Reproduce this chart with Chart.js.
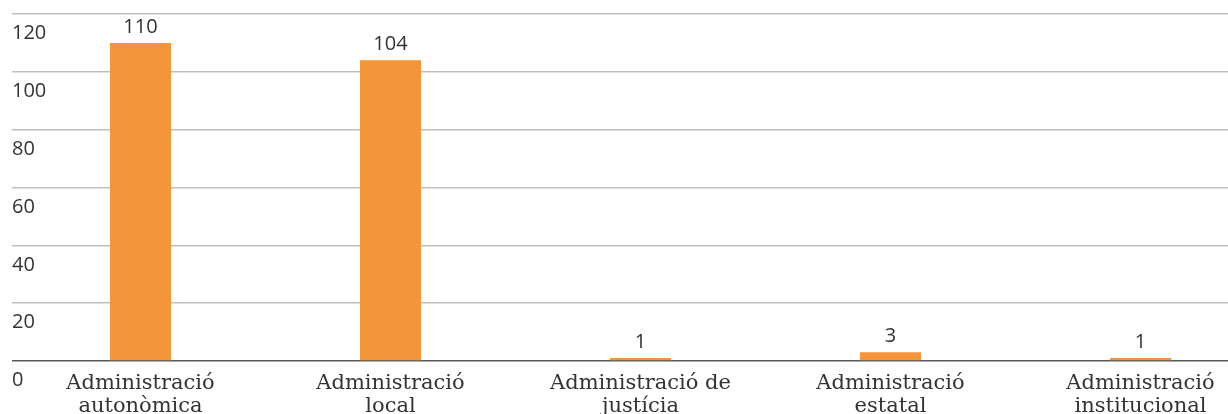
<!DOCTYPE html>
<html>
<head>
<meta charset="utf-8">
<script src="https://cdn.jsdelivr.net/npm/chart.js@4.4.1/dist/chart.umd.min.js"></script>
<style>
    html, body { margin: 0; padding: 0; background: #fff; overflow: hidden; }
    #wrap { width: 1270px; height: 414px; position: relative; }
</style>
</head>
<body>
<div id="wrap"><canvas id="myChart"></canvas></div>
<script>
const categories = [
    ['Administració', 'autonòmica'],
    ['Administració', 'local'],
    ['Administració de', 'justícia'],
    ['Administració', 'estatal'],
    ['Administració', 'institucional']
];
const values = [110, 104, 1, 3, 1];
const yTicks = [0, 20, 40, 60, 80, 100, 120];

const barColor = '#F5953A';
const textColor = '#333333';

// value labels above each bar
const barLabels = {
    id: 'barLabels',
    afterDatasetsDraw(chart) {
        const ctx = chart.ctx;
        const meta = chart.getDatasetMeta(0);
        ctx.save();
        ctx.font = '20px "Open Sans"';
        ctx.fillStyle = textColor;
        ctx.textAlign = 'center';
        ctx.textBaseline = 'alphabetic';
        meta.data.forEach((bar, i) => {
            ctx.fillText(values[i], bar.x, bar.y - 10);
        });
        ctx.restore();
    }
};

const config = {
    type: 'bar',
    data: {
        labels: categories,
        datasets: [{
            data: values,
            backgroundColor: barColor,
            borderWidth: 0,
            barPercentage: 0.244,
            categoryPercentage: 1
        }]
    },
    options: {
        responsive: true,
        maintainAspectRatio: false,
        animation: false,
        layout: {
            padding: { left: 12, right: 4.5, top: 14, bottom: 0 }
        },
        scales: {
            x: {
                grid: { display: false },
                border: { display: false },
                ticks: {
                    color: textColor,
                    font: { family: '"DejaVu Serif"', size: 21, lineHeight: 1.1 },
                    padding: 3,
                    maxRotation: 0,
                    autoSkip: false
                },
                afterFit: s => { s.height = 53; }
            },
            y: {
                min: 0,
                max: 120,
                afterBuildTicks: s => { s.ticks = yTicks.map(v => ({ value: v })); },
                border: { display: false },
                grid: {
                    color: c => c.tick && c.tick.value === 0 ? '#595959' : '#bfbfbf',
                    lineWidth: 1.5,
                    drawTicks: true,
                    tickLength: 3.5
                },
                ticks: {
                    mirror: true,
                    padding: -3.5,
                    labelOffset: 19.5,
                    color: textColor,
                    font: { family: '"Open Sans"', size: 20 }
                },
                afterFit: s => { s.width = 3.5; }
            }
        },
        plugins: {
            legend: { display: false },
            tooltip: { enabled: false }
        }
    },
    plugins: [barLabels]
};

new Chart(document.getElementById('myChart'), config);
</script>
</body>
</html>
